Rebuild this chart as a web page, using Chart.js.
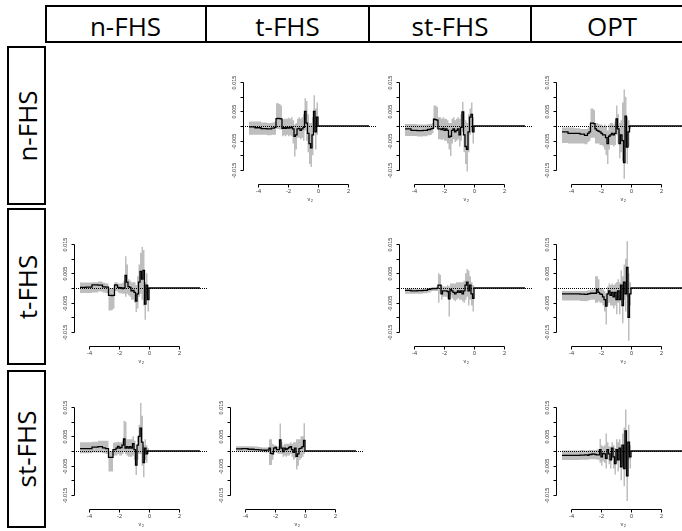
<!DOCTYPE html>
<html>
<head>
<meta charset="utf-8">
<script src="https://cdn.jsdelivr.net/npm/chart.js@4.4.1/dist/chart.umd.min.js"></script>
<style>
  body { margin:0; background:#fff; width:682px; height:531px; overflow:hidden; position:relative; font-family:"Open Sans", sans-serif; }
  .box { position:absolute; border:2px solid #000; box-sizing:border-box; }
  .vline { position:absolute; top:5px; width:2px; height:38px; background:#000; }
  .htxt { position:absolute; top:5px; height:38px; line-height:38px; padding-top:2px; box-sizing:border-box; text-align:center; font-size:26px; color:#000; }
  .rtxt { position:absolute; height:38px; line-height:38px; text-align:center; font-size:26px; color:#000; transform:rotate(-90deg); transform-origin:center center; }
  canvas { position:absolute; }
</style>
</head>
<body>
<script>
// x grid shared by every panel (v2)
const xGrid = [-4.6,-4.2,-3.8,-3.4,-3.1,-2.9,-2.8,-2.7,-2.6,-2.5,-2.4,-2.3,-2.2,-2.1,-2.0,-1.9,-1.8,-1.7,-1.6,-1.5,-1.4,-1.3,-1.2,-1.1,-1.0,-0.9,-0.8,-0.7,-0.6,-0.5,-0.4,-0.3,-0.2,-0.1,0.0,3.4];

const colNames = ['n-FHS','t-FHS','st-FHS','OPT'];
const rowNames = ['n-FHS','t-FHS','st-FHS'];

const xTickVals = [-4,-2,0,2];
const xTickLabels = ['-4','-2','0','2'];
const yTickVals = [-0.015,-0.01,-0.005,0,0.005,0.01,0.015];
const yTickLabels = ['-0.015','','-0.005','','0.005','','0.015'];

// row n-FHS / col t-FHS
const est_n_t = [-0.0003,-0.0006,-0.0009,-0.001,-0.0007,-0.0005,0.0025,0.0026,0.0025,0.0024,-0.0008,-0.0006,-0.0008,-0.0005,-0.0007,-0.0006,-0.0004,-0.001,-0.0035,-0.003,-0.001,-0.0008,-0.0015,-0.001,-0.0005,0.005,0.001,-0.0025,-0.006,-0.0075,-0.003,0.005,-0.002,0.003,0,0];
const hi_n_t  = [0.0015,0.0015,0.0012,0.001,0.0012,0.0015,0.0078,0.0078,0.0075,0.007,0.0022,0.0025,0.0025,0.0025,0.0028,0.0025,0.003,0.002,0.0005,0.001,0.0025,0.003,0.0025,0.003,0.004,0.0095,0.0085,0.004,0.001,0.001,0.003,0.0105,0.006,0.008,0,0];
const lo_n_t  = [-0.003,-0.003,-0.003,-0.0032,-0.003,-0.003,-0.001,-0.001,-0.0012,-0.0012,-0.0035,-0.0032,-0.0035,-0.003,-0.0035,-0.0032,-0.0035,-0.006,-0.0104,-0.008,-0.004,-0.004,-0.0045,-0.004,-0.005,-0.0015,-0.005,-0.009,-0.013,-0.014,-0.01,-0.002,-0.008,-0.003,0,0];

// row n-FHS / col st-FHS
const est_n_st = [-0.001,-0.0015,-0.0016,-0.0015,-0.0012,-0.001,-0.0008,0.0023,0.0022,0.002,-0.001,-0.001,-0.0012,-0.0008,-0.0015,-0.001,-0.0015,-0.0038,-0.0035,-0.0015,-0.001,-0.002,-0.0015,-0.001,-0.003,-0.0005,0.0048,-0.003,-0.007,-0.008,-0.002,0.003,0.004,-0.002,0,0];
const hi_n_st  = [0.0007,0.0007,0.0005,0.0005,0.0007,0.0008,0.001,0.007,0.007,0.0065,0.003,0.003,0.0025,0.003,0.0025,0.0025,0.002,0.001,0.001,0.0025,0.003,0.002,0.0025,0.003,0.0025,0.004,0.0083,0.005,0.002,0.001,0.004,0.006,0.008,0.003,0,0];
const lo_n_st  = [-0.0034,-0.0034,-0.0036,-0.0035,-0.0032,-0.003,-0.0025,-0.0005,-0.0005,-0.001,-0.0045,-0.0045,-0.0048,-0.0045,-0.005,-0.005,-0.006,-0.008,-0.0102,-0.006,-0.0045,-0.0055,-0.005,-0.0045,-0.007,-0.005,-0.002,-0.009,-0.013,-0.0155,-0.009,-0.003,-0.002,-0.006,0,0];

// row n-FHS / col OPT
const est_n_opt = [-0.002,-0.0025,-0.0025,-0.0028,-0.0032,-0.0025,-0.002,0.001,0.001,0.0008,-0.001,-0.0015,-0.0018,-0.002,-0.0025,-0.003,-0.003,-0.004,-0.006,-0.0035,-0.003,-0.0025,-0.003,-0.0025,0.0024,-0.001,-0.006,-0.003,-0.005,-0.0125,0.0034,-0.0072,-0.002,0,0,0];
const hi_n_opt  = [-0.0005,-0.0005,-0.0008,-0.001,-0.001,-0.0005,-0.0003,0.006,0.006,0.0055,0.001,0.001,0.0008,0.0005,0.0005,0,0.0005,0,-0.0015,0.0005,0.001,0.001,0.0005,0.0015,0.007,0.004,0.001,0.002,0.008,0.0125,0.01,0.003,0.002,0,0,0];
const lo_n_opt  = [-0.0058,-0.006,-0.006,-0.006,-0.0062,-0.0055,-0.005,-0.004,-0.004,-0.004,-0.006,-0.006,-0.006,-0.0065,-0.0065,-0.007,-0.008,-0.01,-0.013,-0.008,-0.0065,-0.0065,-0.007,-0.0065,-0.003,-0.006,-0.011,-0.009,-0.012,-0.018,-0.005,-0.013,-0.007,-0.001,0,0];

// row t-FHS / col n-FHS
const est_t_n = [0.0002,0.0003,0.0011,0.001,0.0004,0.0003,0.0003,-0.0025,-0.0025,-0.0026,-0.0025,0.0011,0.001,0.0002,0,0.0001,-0.0002,0,0.0043,0.002,0.0005,0.0002,-0.001,-0.0008,-0.0015,-0.0045,-0.002,0.002,0.0057,0.003,0.006,-0.0055,0.001,-0.004,0,0];
const hi_t_n  = [0.0019,0.0019,0.002,0.0022,0.0018,0.0015,0.0015,0,0,0,0,0.002,0.002,0.0015,0.0015,0.0015,0.0018,0.0025,0.0108,0.008,0.003,0.0025,0.002,0.002,0.002,0.001,0.004,0.008,0.012,0.014,0.013,0.002,0.005,0.001,0,0];
const lo_t_n  = [-0.0017,-0.0017,-0.0015,-0.0012,-0.0015,-0.0017,-0.0017,-0.0077,-0.0077,-0.0075,-0.007,-0.001,-0.001,-0.0015,-0.0018,-0.0018,-0.002,-0.002,-0.003,-0.002,-0.0025,-0.003,-0.004,-0.004,-0.005,-0.0082,-0.007,-0.003,-0.002,-0.004,-0.006,-0.0108,-0.003,-0.008,0,0];

// row t-FHS / col st-FHS
const est_t_st = [-0.0008,-0.001,-0.0009,-0.0008,-0.0005,-0.0003,-0.0002,-0.0002,-0.0002,-0.0001,0.001,0.001,-0.002,-0.001,-0.001,-0.001,-0.0012,-0.0037,-0.0005,-0.001,-0.0015,-0.002,-0.0015,-0.001,-0.0015,-0.001,-0.002,-0.001,0.001,0.002,-0.001,0.001,-0.002,-0.0035,0,0];
const hi_t_st  = [-0.0002,-0.0002,-0.0003,-0.0002,0,0.0002,0.0003,0.0003,0.0003,0.0005,0.005,0.0045,0.001,0.0005,0.0005,0.0005,0.001,0.0005,0.0015,0.0015,0.0015,0.0015,0.002,0.002,0.002,0.002,0.002,0.0025,0.005,0.0065,0.006,0.004,0.002,0.001,0,0];
const lo_t_st  = [-0.002,-0.002,-0.002,-0.0018,-0.0015,-0.0012,-0.001,-0.001,-0.001,-0.001,-0.005,-0.002,-0.004,-0.003,-0.003,-0.003,-0.0035,-0.0097,-0.0025,-0.0035,-0.004,-0.0045,-0.004,-0.0035,-0.004,-0.004,-0.0045,-0.005,-0.004,-0.003,-0.006,-0.004,-0.006,-0.008,0,0];

// row t-FHS / col OPT
const est_t_opt = [-0.002,-0.002,-0.002,-0.0021,-0.0022,-0.002,-0.0019,-0.0018,-0.0018,-0.0018,-0.0018,-0.0005,-0.0015,-0.002,-0.0022,-0.003,-0.004,-0.0062,-0.002,-0.001,-0.0025,-0.0015,-0.003,-0.0015,-0.004,-0.001,-0.004,0.001,-0.006,0.002,-0.002,0.007,-0.01,-0.002,0,0];
const hi_t_opt  = [-0.001,-0.001,-0.001,-0.001,-0.001,-0.0008,-0.0008,-0.0005,-0.0005,-0.0005,0.004,0.004,0.003,0,0,-0.0005,-0.001,-0.002,0.0005,0.0015,0.001,0.0015,0.001,0.0015,0.002,0.003,0.002,0.006,0.004,0.008,0.01,0.016,0.005,0.002,0,0];
const lo_t_opt  = [-0.0043,-0.0043,-0.0043,-0.0044,-0.0045,-0.0043,-0.0042,-0.004,-0.004,-0.004,-0.005,-0.005,-0.0045,-0.005,-0.005,-0.006,-0.008,-0.0125,-0.006,-0.005,-0.006,-0.006,-0.007,-0.006,-0.009,-0.005,-0.009,-0.004,-0.012,-0.004,-0.008,-0.003,-0.018,-0.006,0,0];

// row st-FHS / col n-FHS
const est_st_n = [0.0008,0.0008,0.0013,0.0015,0.0011,0.0008,0.0008,-0.0022,-0.0022,-0.0022,0.0005,0.0005,0.001,0.0016,0.001,0.0012,0.002,0.0041,0.001,0.0015,0.001,0.0015,0.001,0.0025,0.0005,-0.0048,0.002,0.005,0.0078,0.003,-0.004,0.001,-0.001,0,0,0];
const hi_st_n  = [0.003,0.003,0.0032,0.0035,0.0035,0.0035,0.0035,0,0,0,0.0028,0.003,0.003,0.0032,0.003,0.003,0.0035,0.0103,0.01,0.004,0.004,0.004,0.004,0.005,0.0035,0,0.005,0.009,0.0164,0.012,0.002,0.004,0.002,0.001,0,0];
const lo_st_n  = [-0.0008,-0.0008,-0.0005,-0.0005,-0.0008,-0.001,-0.001,-0.007,-0.007,-0.007,-0.0015,-0.0015,-0.0015,-0.001,-0.0015,-0.0015,-0.001,0,-0.001,-0.0015,-0.002,-0.002,-0.002,-0.0015,-0.003,-0.0082,-0.003,-0.001,-0.001,-0.005,-0.009,-0.003,-0.004,-0.001,0,0];

// row st-FHS / col t-FHS
const est_st_t = [0.0007,0.0008,0.0006,0.0005,0.0004,0.0003,0.0003,0.0002,0.0003,0.0003,0.001,-0.0008,-0.001,0.001,0.0012,0.0005,0.0005,0.0038,0.001,-0.0002,0.001,0.0005,0.0008,0.0012,0.0015,0.0005,-0.0005,0.001,-0.0018,-0.001,0.0008,0.001,0.0015,0.0036,0,0];
const hi_st_t  = [0.0016,0.0016,0.0016,0.0015,0.0014,0.0012,0.0012,0.0012,0.0012,0.0012,0.004,0.004,0.0025,0.002,0.002,0.0015,0.0015,0.0094,0.003,0.002,0.0025,0.0025,0.0025,0.0025,0.003,0.0025,0.003,0.003,0.004,0.004,0.004,0.005,0.005,0.0095,0,0];
const lo_st_t  = [-0.0002,-0.0002,-0.0003,-0.0003,-0.0003,-0.0004,-0.0004,-0.0005,-0.0005,-0.0005,-0.0048,-0.0048,-0.003,-0.0005,-0.0005,-0.0008,-0.001,-0.001,-0.001,-0.002,-0.0015,-0.002,-0.0015,-0.0015,-0.001,-0.002,-0.003,-0.0025,-0.0063,-0.005,-0.003,-0.0025,-0.002,-0.001,0,0];

// row st-FHS / col OPT
const est_st_opt = [-0.0015,-0.0015,-0.0015,-0.0014,-0.0013,-0.0015,-0.0012,-0.0012,-0.001,-0.0011,-0.0012,-0.0013,-0.0013,0.0005,-0.002,-0.0008,-0.001,-0.0025,0.0005,-0.001,-0.003,0.001,-0.002,-0.0043,0.0005,-0.003,0.001,-0.0054,0.002,-0.006,0.0069,-0.0085,0.003,-0.002,0,0];
const hi_st_opt  = [0.0002,0.0002,0.0002,0.0003,0.0002,0.0002,0.0003,0.0003,0.0003,0.0003,0.0003,0.0005,0.0005,0.0041,0.002,0.0015,0.002,0.006,0.003,0.0015,0.0015,0.003,0.002,0.001,0.004,0.003,0.004,0.002,0.006,0.008,0.0142,0.003,0.009,0.002,0,0];
const lo_st_opt  = [-0.0031,-0.0031,-0.0031,-0.003,-0.003,-0.003,-0.0028,-0.0028,-0.0028,-0.0028,-0.0028,-0.003,-0.003,-0.004,-0.005,-0.0035,-0.004,-0.006,-0.003,-0.0045,-0.006,-0.003,-0.006,-0.008,-0.004,-0.007,-0.003,-0.01,-0.004,-0.012,-0.002,-0.0171,-0.003,-0.006,0,0];

// panel placement: axisX = pixel of the y axis, zeroY = pixel of y = 0
const panels = [
  { axisX:243, zeroY:126, est:est_n_t,   hi:hi_n_t,   lo:lo_n_t },
  { axisX:399, zeroY:126, est:est_n_st,  hi:hi_n_st,  lo:lo_n_st },
  { axisX:556, zeroY:126, est:est_n_opt, hi:hi_n_opt, lo:lo_n_opt },
  { axisX:74,  zeroY:288, est:est_t_n,   hi:hi_t_n,   lo:lo_t_n },
  { axisX:399, zeroY:288, est:est_t_st,  hi:hi_t_st,  lo:lo_t_st },
  { axisX:556, zeroY:288, est:est_t_opt, hi:hi_t_opt, lo:lo_t_opt },
  { axisX:74,  zeroY:451, est:est_st_n,  hi:hi_st_n,  lo:lo_st_n },
  { axisX:230, zeroY:451, est:est_st_t,  hi:hi_st_t,  lo:lo_st_t },
  { axisX:556, zeroY:451, est:est_st_opt,hi:hi_st_opt,lo:lo_st_opt }
];

// === header + row labels ===
function el(cls, css, txt){
  const d = document.createElement('div');
  d.className = cls;
  Object.assign(d.style, css);
  if (txt) d.textContent = txt;
  document.body.appendChild(d);
  return d;
}
const colEdges = [45, 206, 369, 531, 693];
el('box', { left:'45px', top:'5px', width:'660px', height:'38px' });
[206, 369, 531].forEach(x => el('vline', { left:(x-1)+'px' }));
colNames.forEach((n, i) => el('htxt', { left:colEdges[i]+'px', width:(colEdges[i+1]-colEdges[i])+'px' }, n));

const rowEdges = [[46,205],[208,365],[370,528]];
rowNames.forEach((n, i) => {
  const [t, b] = rowEdges[i];
  el('box', { left:'7px', top:t+'px', width:'39px', height:(b-t)+'px' });
  const h = b - t;
  el('rtxt', { left:(26 - h/2)+'px', top:((t+b)/2 - 19)+'px', width:h+'px' }, n);
});

// === R-like axes drawn through the chart scales ===
const rAxes = {
  id: 'rAxes',
  afterDatasetsDraw(chart){
    const { ctx, chartArea:a, scales:{ x, y } } = chart;
    ctx.save();
    ctx.strokeStyle = '#000';
    ctx.lineWidth = 1;

    const yz = Math.round(y.getPixelForValue(0)) + 0.5;
    ctx.setLineDash([1, 1]);
    ctx.beginPath(); ctx.moveTo(a.left, yz); ctx.lineTo(a.right, yz); ctx.stroke();
    ctx.setLineDash([]);

    ctx.fillStyle = '#333';
    ctx.font = '5.5px "Liberation Sans", Arial, sans-serif';
    ctx.textAlign = 'center';
    ctx.textBaseline = 'middle';

    // x axis
    const yb = Math.round(a.bottom) + 0.5;
    const px = v => Math.round(x.getPixelForValue(v)) + 0.5;
    ctx.beginPath();
    ctx.moveTo(px(xTickVals[0]), yb); ctx.lineTo(px(xTickVals[xTickVals.length-1]), yb);
    xTickVals.forEach(v => { ctx.moveTo(px(v), yb); ctx.lineTo(px(v), yb + 3); });
    ctx.stroke();
    xTickVals.forEach((v, i) => ctx.fillText(xTickLabels[i], px(v), yb + 7));
    const cx = (a.left + a.right) / 2;
    ctx.fillText('v', cx - 1, yb + 15);
    ctx.font = '4px "Liberation Sans", Arial, sans-serif';
    ctx.fillText('2', cx + 2, yb + 16.5);

    // y axis
    const xl = Math.round(a.left) + 0.5;
    const py = v => Math.round(y.getPixelForValue(v)) + 0.5;
    ctx.beginPath();
    ctx.moveTo(xl, py(yTickVals[0])); ctx.lineTo(xl, py(yTickVals[yTickVals.length-1]));
    yTickVals.forEach(v => { ctx.moveTo(xl, py(v)); ctx.lineTo(xl - 3, py(v)); });
    ctx.stroke();
    ctx.font = '5.5px "Liberation Sans", Arial, sans-serif';
    yTickVals.forEach((v, i) => {
      if (!yTickLabels[i]) return;
      ctx.save();
      ctx.translate(xl - 9, py(v));
      ctx.rotate(-Math.PI / 2);
      ctx.fillText(yTickLabels[i], 0, 0);
      ctx.restore();
    });
    ctx.restore();
  }
};

function pts(vals){ return xGrid.map((xv, i) => ({ x:xv, y:vals[i] })); }

panels.forEach(p => {
  const W = 180, H = 160, padL = 30, padT = 22;
  const cv = document.createElement('canvas');
  cv.width = W; cv.height = H;
  cv.style.left = (p.axisX - padL) + 'px';
  cv.style.top = (p.zeroY - 80) + 'px';
  document.body.appendChild(cv);
  new Chart(cv, {
    type: 'line',
    data: { datasets: [
      // first dataset is painted last, so the estimate sits on top of the band
      { data: pts(p.est), stepped: true, borderColor: '#000', borderWidth: 1.3, pointRadius: 0, fill: false },
      { data: pts(p.hi), stepped: true, borderWidth: 0, pointRadius: 0, backgroundColor: '#bebebe', fill: '+1' },
      { data: pts(p.lo), stepped: true, borderWidth: 0, pointRadius: 0, fill: false }
    ]},
    options: {
      responsive: false, animation: false, events: [],
      layout: { padding: { left: padL, top: padT, right: W - padL - 133.5, bottom: H - padT - 116 } },
      plugins: { legend: { display: false }, tooltip: { enabled: false } },
      scales: {
        x: { type: 'linear', min: -5, max: 3.9, display: false },
        y: { type: 'linear', min: -0.0198, max: 0.0198, display: false }
      }
    },
    plugins: [rAxes]
  });
});
</script>
</body>
</html>
